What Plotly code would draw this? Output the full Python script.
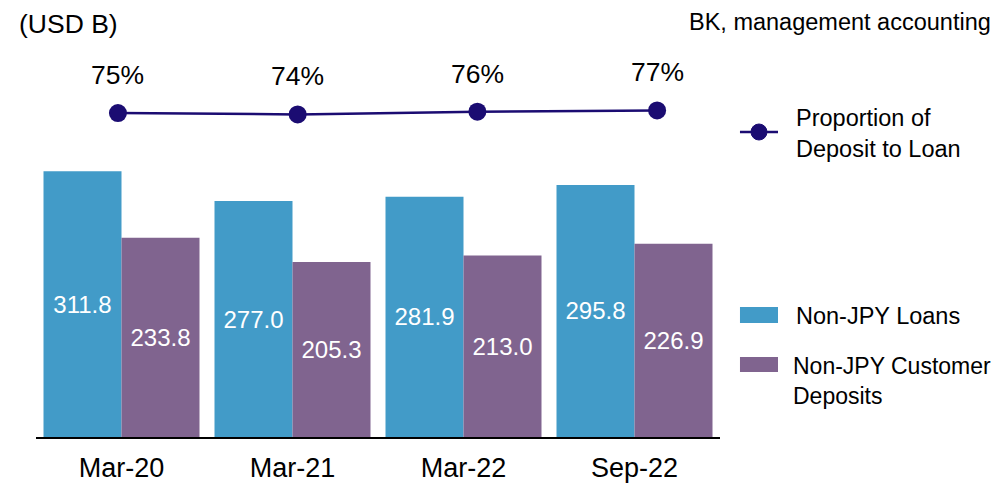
import plotly.graph_objects as go

categories = ["Mar-20", "Mar-21", "Mar-22", "Sep-22"]
loans = [311.8, 277.0, 281.9, 295.8]
deposits = [233.8, 205.3, 213.0, 226.9]
proportion = [75, 74, 76, 77]

name_loans = "Non-JPY Loans"
name_deposits = "Non-JPY Customer<br>Deposits"
name_prop = "Proportion of<br>Deposit to Loan"

C_LOAN = "#429BC8"
C_DEP = "#80648F"
C_LINE = "#1B0C72"
FONT = "Liberation Sans, Arial, sans-serif"

fig = go.Figure()
fig.add_trace(go.Bar(
    x=categories, y=loans, name="Non-JPY Loans", marker=dict(color=C_LOAN, line=dict(width=0)),
    text=[f"{v:.1f}" for v in loans], textposition="inside", insidetextanchor="middle",
    textfont=dict(color="white", size=24, family=FONT), textangle=0, showlegend=False,
))
fig.add_trace(go.Bar(
    x=categories, y=deposits, name="Non-JPY Customer Deposits", marker=dict(color=C_DEP, line=dict(width=0)),
    text=[f"{v:.1f}" for v in deposits], textposition="inside", insidetextanchor="middle",
    textfont=dict(color="white", size=24, family=FONT), textangle=0, showlegend=False,
))
fig.add_trace(go.Scatter(
    x=categories, y=proportion, xaxis="x2", yaxis="y2", mode="lines+markers",
    name="Proportion of Deposit to Loan",
    line=dict(color=C_LINE, width=2.5), marker=dict(color=C_LINE, size=18),
    showlegend=False,
))

annotations = []
for c, p in zip(categories, proportion):
    annotations.append(dict(x=c, y=p, xref="x2", yref="y2", text=f"{p}%", showarrow=False,
                            yshift=38, font=dict(size=26.5, color="black", family=FONT)))

annotations += [
    dict(x=-0.0278, y=1.0955, xref="paper", yref="paper", text="(USD B)", showarrow=False,
         xanchor="left", yanchor="middle", font=dict(size=26.5, color="black", family=FONT)),
    dict(x=1.3991, y=1.1008, xref="paper", yref="paper", text="BK, management accounting",
         showarrow=False, xanchor="right", yanchor="middle", font=dict(size=23.5, color="black", family=FONT)),
    dict(x=1.1082, y=0.805, xref="paper", yref="paper", text=name_prop, showarrow=False,
         xanchor="left", yanchor="middle", align="left", font=dict(size=23.5, color="black", family=FONT)),
    dict(x=1.1082, y=0.321, xref="paper", yref="paper", text=name_loans, showarrow=False,
         xanchor="left", yanchor="middle", align="left", font=dict(size=23.5, color="black", family=FONT)),
    dict(x=1.1036, y=0.149, xref="paper", yref="paper", text=name_deposits, showarrow=False,
         xanchor="left", yanchor="middle", align="left", font=dict(size=23, color="black", family=FONT)),
]

shapes = [
    dict(type="line", xref="paper", yref="paper", x0=1.0292, x1=1.0848, y0=0.809, y1=0.809,
         line=dict(color=C_LINE, width=2.5)),
    dict(type="circle", xref="paper", yref="paper", xsizemode="pixel", ysizemode="pixel",
         xanchor=1.057, yanchor=0.809, x0=-8, x1=8, y0=-8, y1=8,
         fillcolor=C_LINE, line=dict(color=C_LINE, width=1)),
    dict(type="rect", xref="paper", yref="paper", x0=1.0292, x1=1.0848, y0=0.3024, y1=0.3448,
         fillcolor=C_LOAN, line=dict(width=0)),
    dict(type="rect", xref="paper", yref="paper", x0=1.0292, x1=1.0848, y0=0.1724, y1=0.2122,
         fillcolor=C_DEP, line=dict(width=0)),
]

fig.update_layout(
    width=995, height=476,
    margin=dict(l=28, r=283, t=52, b=47),
    paper_bgcolor="white", plot_bgcolor="white",
    barmode="group", bargap=0.0877, bargroupgap=0,
    showlegend=False,
    font=dict(family=FONT, color="black"),
    xaxis=dict(type="category", range=[-0.5, 3.5], showline=True, linecolor="black", linewidth=2,
               ticks="", showgrid=False, zeroline=False, tickfont=dict(size=27, color="black"),
               ticklabelstandoff=6, automargin=False),
    yaxis=dict(range=[0, 442.5], visible=False, showgrid=False, zeroline=False, automargin=False),
    xaxis2=dict(type="category", overlaying="x", range=[-0.456, 3.350], visible=False),
    yaxis2=dict(overlaying="y", range=[-168.6, 114.9], visible=False),
    annotations=annotations,
    shapes=shapes,
)

fig.write_html("out.html")
